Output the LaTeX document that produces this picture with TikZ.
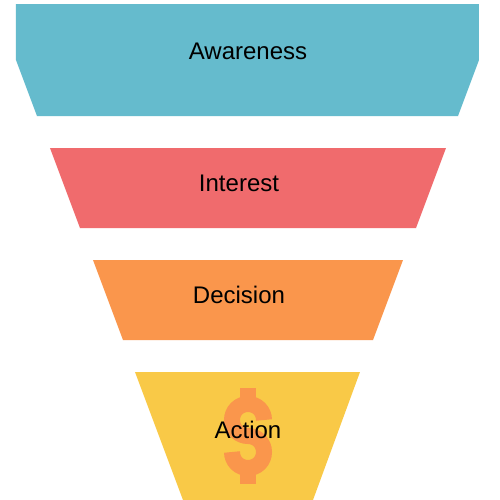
\documentclass[tikz,border=0pt]{standalone}
\usepackage{fontspec}
\setmainfont{Liberation Sans}
\definecolor{cyanband}{HTML}{65BBCD}
\definecolor{redband}{HTML}{F06B6D}
\definecolor{orangeband}{HTML}{FA964C}
\definecolor{yellowband}{HTML}{F9C947}
\tikzset{
  band/.style={line width=0pt},
  label/.style={font=\fontsize{12}{14}\selectfont, text=black, anchor=base, inner sep=0pt},
}
\begin{document}
\begin{tikzpicture}[x=0.5pt,y=-0.5pt]
\useasboundingbox (0,0) rectangle (500,500);
\fill[white] (0,0) rectangle (500,500);
\fill[band,cyanband] (16,4) -- (479,4) -- (479,60) -- (458,116) -- (37,116) -- (16,60) -- cycle;
\fill[band,redband] (50,148) -- (446,148) -- (416,228) -- (80,228) -- cycle;
\fill[band,orangeband] (93,260) -- (403,260) -- (373,340) -- (123,340) -- cycle;
\fill[band,yellowband] (135,372) -- (360,372) -- (313,500) -- (183,500) -- cycle;
% dollar sign
\fill[orangeband] (240,388) rectangle (256,402);
\fill[orangeband] (240,470) rectangle (256,484);
\draw[orangeband,line width=8pt] (264,420)
  .. controls (264,411) and (257,404) .. (248,404)
  .. controls (239,404) and (232,411) .. (232,420)
  .. controls (232,429) and (239,436) .. (248,436)
  .. controls (257,436) and (264,443) .. (264,452)
  .. controls (264,461) and (257,468) .. (248,468)
  .. controls (239,468) and (232,461) .. (232,452);
\node[label] (awareness) at (248,59) {Awareness};
\node[label] (interest) at (239,191) {Interest};
\node[label] (decision) at (239,303) {Decision};
\node[label] (action) at (248,438) {Action};
\end{tikzpicture}
\end{document}
